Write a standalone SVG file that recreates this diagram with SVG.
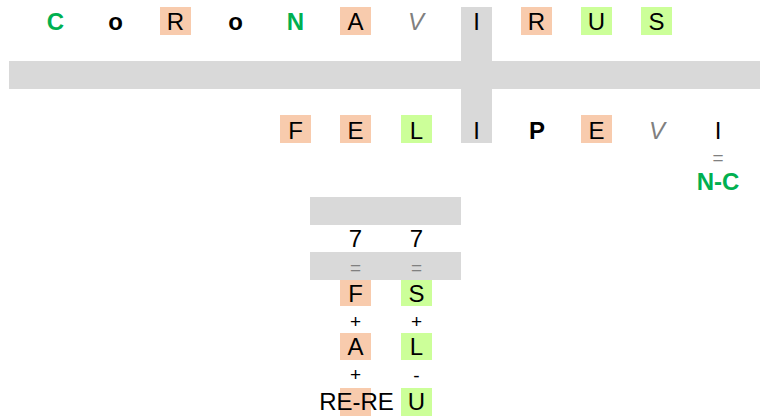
<svg xmlns="http://www.w3.org/2000/svg" width="760" height="419" viewBox="0 0 760 419">
<style>
.t{font-family:"Liberation Sans",Arial,sans-serif;font-size:24px;text-anchor:middle;fill:#000}
.b{font-weight:bold}
.g{fill:#00B050;font-weight:bold}
.v{fill:#808080;font-style:italic}
.s{font-family:"Liberation Sans",Arial,sans-serif;font-size:19px;text-anchor:middle;fill:#000}
.eq{fill:#808080}
.o{fill:#F8CBAD}
.l{fill:#CCFF99}
.gr{fill:#D9D9D9}
</style>
<g id="bars">
<rect class="gr" x="9" y="61" width="751" height="28"/>
<rect class="gr" x="461" y="7" width="31" height="136"/>
<rect class="gr" x="310" y="197" width="151" height="28"/>
<rect class="gr" x="310" y="252" width="151" height="28"/>
</g>
<g id="coronavirus">
<rect class="o" x="160" y="7" width="31" height="28"/>
<rect class="o" x="340" y="7" width="31" height="28"/>
<rect class="o" x="521" y="7" width="31" height="28"/>
<rect class="l" x="581" y="7" width="31" height="28"/>
<rect class="l" x="641" y="7" width="31" height="28"/>
<text class="t g" x="55.5" y="30">C</text>
<text class="t b" x="115.5" y="30">o</text>
<text class="t" x="175.5" y="30">R</text>
<text class="t b" x="235.5" y="30">o</text>
<text class="t g" x="295.5" y="30">N</text>
<text class="t" x="355.5" y="30">A</text>
<text class="t v" x="416" y="30">V</text>
<text class="t" x="476.5" y="30">I</text>
<text class="t" x="536.5" y="30">R</text>
<text class="t" x="596.5" y="30">U</text>
<text class="t" x="656.5" y="30">S</text>
</g>
<g id="felipevi">
<rect class="o" x="280" y="115" width="31" height="28"/>
<rect class="o" x="340" y="115" width="31" height="28"/>
<rect class="l" x="401" y="115" width="31" height="28"/>
<rect class="o" x="581" y="115" width="31" height="28"/>
<text class="t" x="295.5" y="139">F</text>
<text class="t" x="355.5" y="139">E</text>
<text class="t" x="416.5" y="139">L</text>
<text class="t" x="476.5" y="139">I</text>
<text class="t b" x="537" y="139">P</text>
<text class="t" x="596.5" y="139">E</text>
<text class="t v" x="657" y="139">V</text>
<text class="t" x="718" y="139">I</text>
<text class="s eq" x="718" y="164">=</text>
<text class="t g" x="718" y="190">N-C</text>
</g>
<g id="left-column">
<rect class="o" x="340" y="280" width="31" height="26"/>
<rect class="o" x="340" y="333" width="31" height="27"/>
<rect class="o" x="340" y="388" width="31" height="28"/>
<text class="t" x="355.5" y="247">7</text>
<text class="s eq" x="355.5" y="274">=</text>
<text class="t" x="355.5" y="302">F</text>
<text class="s" x="355.5" y="328">+</text>
<text class="t" x="355.5" y="355">A</text>
<text class="s" x="355.5" y="381">+</text>
<text class="t" x="356.5" y="410">RE-RE</text>
</g>
<g id="right-column">
<rect class="l" x="401" y="280" width="31" height="26"/>
<rect class="l" x="401" y="333" width="31" height="27"/>
<rect class="l" x="401" y="388" width="31" height="28"/>
<text class="t" x="416.5" y="247">7</text>
<text class="s eq" x="416.5" y="274">=</text>
<text class="t" x="416.5" y="302">S</text>
<text class="s" x="416.5" y="328">+</text>
<text class="t" x="416.5" y="355">L</text>
<text class="s" x="416.5" y="382">-</text>
<text class="t" x="416.5" y="410">U</text>
</g>
<g id="connectors"/>
</svg>
